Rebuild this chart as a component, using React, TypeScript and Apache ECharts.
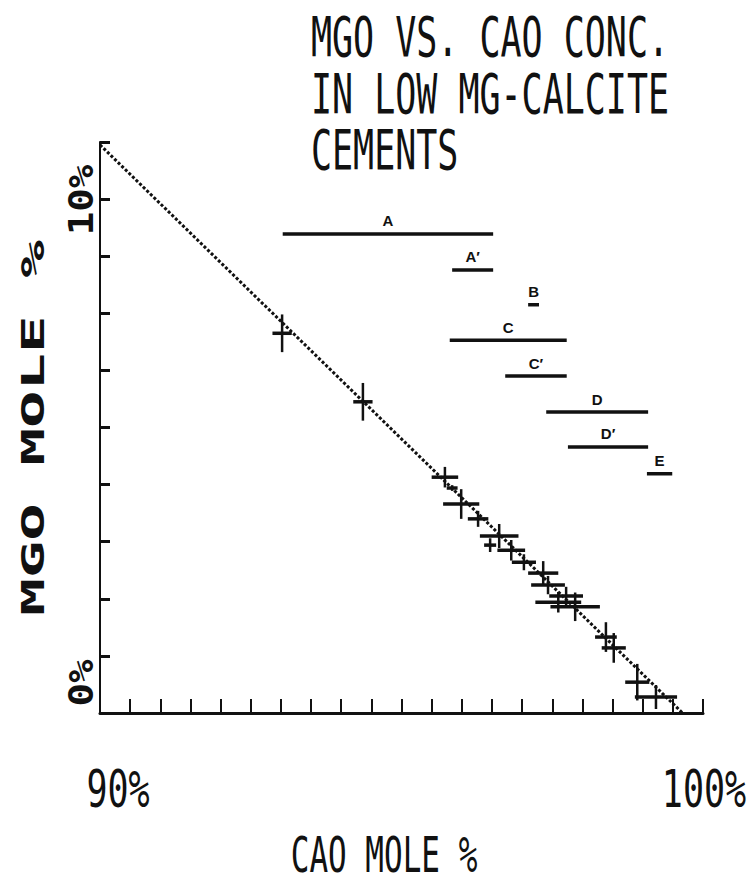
import React, { useEffect, useRef } from 'react';
import * as echarts from 'echarts';

// ---- texts ----
const TITLE_LINES = ['MGO VS. CAO CONC.', 'IN LOW MG-CALCITE', 'CEMENTS'];
const X_NAME = 'CAO MOLE %';
const Y_NAME = 'MGO MOLE %';
const X_TICK_VALUES = [90, 100];
const X_TICK_LABELS = ['90%', '100%'];
const Y_TICK_VALUES = [0, 10];
const Y_TICK_LABELS = ['0%', '10%'];

// ---- reference line (CaO vs MgO) ----
const LINE_CAO = [90, 99.66];
const LINE_MGO = [9.95, 0];

// ---- analysed cements (centre and half error bars, mole %) ----
const SAMPLE_CAO = [93.02, 94.36, 95.72, 95.84, 95.99, 96.27, 96.47, 96.62, 96.82, 97.03, 97.35, 97.43, 97.6, 97.73, 97.88, 98.39, 98.52, 98.91, 99.22];
const SAMPLE_MGO = [6.65, 5.45, 4.13, 3.94, 3.66, 3.4, 2.94, 3.1, 2.85, 2.64, 2.45, 2.24, 1.94, 2.05, 1.86, 1.33, 1.14, 0.54, 0.28];
const SAMPLE_CAO_ERR = [0.16, 0.16, 0.22, 0.09, 0.3, 0.17, 0.1, 0.32, 0.23, 0.2, 0.25, 0.28, 0.38, 0.28, 0.41, 0.18, 0.2, 0.2, 0.35];
const SAMPLE_MGO_ERR = [0.33, 0.33, 0.18, 0.05, 0.26, 0.14, 0.12, 0.21, 0.18, 0.14, 0.21, 0.16, 0.18, 0.16, 0.25, 0.26, 0.26, 0.32, 0.21];

// ---- CaO ranges of cement groups ----
const RANGE_LABELS = ['A', 'A\u2032', 'B', 'C', 'C\u2032', 'D', 'D\u2032', 'E'];
const RANGE_FROM = [93.03, 95.84, 97.1, 95.8, 96.72, 97.4, 97.76, 99.07];
const RANGE_TO = [96.52, 96.52, 97.28, 97.74, 97.74, 99.09, 99.09, 99.49];
const RANGE_MGO = [8.39, 7.76, 7.15, 6.53, 5.9, 5.27, 4.66, 4.19];

const INK = '#111';
const MONO = '"DejaVu Sans Mono", monospace';

export default function App() {
  const ref = useRef<HTMLDivElement>(null);

  useEffect(() => {
    if (!ref.current) return;
    const chart = echarts.init(ref.current, null, { renderer: 'svg' });

    const samples = SAMPLE_CAO.map((c, i) => [c, SAMPLE_MGO[i], SAMPLE_CAO_ERR[i], SAMPLE_MGO_ERR[i]]);
    const ranges = RANGE_FROM.map((f, i) => [f, RANGE_TO[i], RANGE_MGO[i]]);

    chart.setOption({
      animation: false,
      backgroundColor: '#fff',
      grid: { left: 100, top: 142, width: 603, height: 571 },
      xAxis: {
        type: 'value', min: 90, max: 100, interval: 0.5,
        axisLine: { show: true, onZero: false, lineStyle: { color: INK, width: 3 } },
        axisTick: { show: true, inside: true, length: 14, lineStyle: { color: INK, width: 2 } },
        axisLabel: { show: false }, splitLine: { show: false },
      },
      yAxis: {
        type: 'value', min: 0, max: 10, interval: 1,
        axisLine: { show: true, onZero: false, lineStyle: { color: INK, width: 2 } },
        axisTick: { show: true, inside: true, length: 10, lineStyle: { color: INK, width: 3 } },
        axisLabel: { show: false }, splitLine: { show: false },
      },
      series: [
        {
          type: 'line',
          data: LINE_CAO.map((c, i) => [c, LINE_MGO[i]]),
          showSymbol: false,
          symbol: 'none',
          lineStyle: { color: INK, width: 3, type: [3, 2] },
          z: 2,
        },
        {
          type: 'custom',
          data: samples,
          encode: { x: 0, y: 1 },
          z: 3,
          renderItem: (params: any, api: any) => {
            const x = api.value(0), y = api.value(1), ex = api.value(2), ey = api.value(3);
            const l = api.coord([x - ex, y]);
            const r = api.coord([x + ex, y]);
            const t = api.coord([x, y + ey]);
            const b = api.coord([x, y - ey]);
            return {
              type: 'group',
              children: [
                { type: 'line', shape: { x1: l[0], y1: l[1], x2: r[0], y2: r[1] }, style: { stroke: INK, lineWidth: 3.5 } },
                { type: 'line', shape: { x1: t[0], y1: t[1], x2: b[0], y2: b[1] }, style: { stroke: INK, lineWidth: 2.5 } },
              ],
            };
          },
        },
        {
          type: 'custom',
          data: ranges,
          encode: { x: [0, 1], y: 2 },
          z: 3,
          renderItem: (params: any, api: any) => {
            const a = api.coord([api.value(0), api.value(2)]);
            const b = api.coord([api.value(1), api.value(2)]);
            return {
              type: 'group',
              children: [
                { type: 'line', shape: { x1: a[0], y1: a[1], x2: b[0], y2: b[1] }, style: { stroke: INK, lineWidth: 3.5 } },
                {
                  type: 'text',
                  style: {
                    text: RANGE_LABELS[params.dataIndex],
                    x: (a[0] + b[0]) / 2, y: a[1] - 13,
                    align: 'center', verticalAlign: 'middle',
                    fontFamily: '"Liberation Sans", Arial, sans-serif', fontWeight: 'bold', fontSize: 15, fill: INK,
                  },
                },
              ],
            };
          },
        },
      ],
    });

    const px = (x: number, y: number) => chart.convertToPixel({ gridIndex: 0 }, [x, y]) as number[];
    const elements: any[] = [];
    TITLE_LINES.forEach((t, i) => {
      elements.push({
        type: 'text', x: 311, y: 37 + i * 56.5, scaleY: 1.57,
        style: { text: t, fontFamily: MONO, fontSize: 35, fill: INK, align: 'left', verticalAlign: 'middle' },
      });
    });
    X_TICK_VALUES.forEach((v, i) => {
      const p = px(v, 0);
      elements.push({
        type: 'text', x: p[0] + (i === 0 ? 18 : 1), y: p[1] + 76, scaleY: 1.49,
        style: { text: X_TICK_LABELS[i], fontFamily: MONO, fontSize: 35, fill: INK, align: 'center', verticalAlign: 'middle' },
      });
    });
    Y_TICK_VALUES.forEach((v, i) => {
      const p = px(90, v);
      elements.push({
        type: 'text', x: p[0] - 19, y: p[1] + (v === 10 ? 58 : -30), rotation: Math.PI / 2, scaleX: 1.15,
        style: { text: Y_TICK_LABELS[i], fontFamily: MONO, fontWeight: 'bold', fontSize: 34, fill: INK, align: 'center', verticalAlign: 'middle' },
      });
    });
    elements.push({
      type: 'text', x: 384, y: 855, scaleY: 1.6,
      style: { text: X_NAME, fontFamily: MONO, fontSize: 31, fill: INK, align: 'center', verticalAlign: 'middle' },
    });
    elements.push({
      type: 'text', x: 33, y: 428, rotation: Math.PI / 2, scaleX: 1.95,
      style: { text: Y_NAME, fontFamily: MONO, fontWeight: 'bold', fontSize: 32, fill: INK, align: 'center', verticalAlign: 'middle' },
    });
    chart.setOption({ graphic: { elements } });

    return () => chart.dispose();
  }, []);

  return <div ref={ref} style={{ position: 'absolute', left: 0, top: 0, width: 748, height: 888 }} />;
}
